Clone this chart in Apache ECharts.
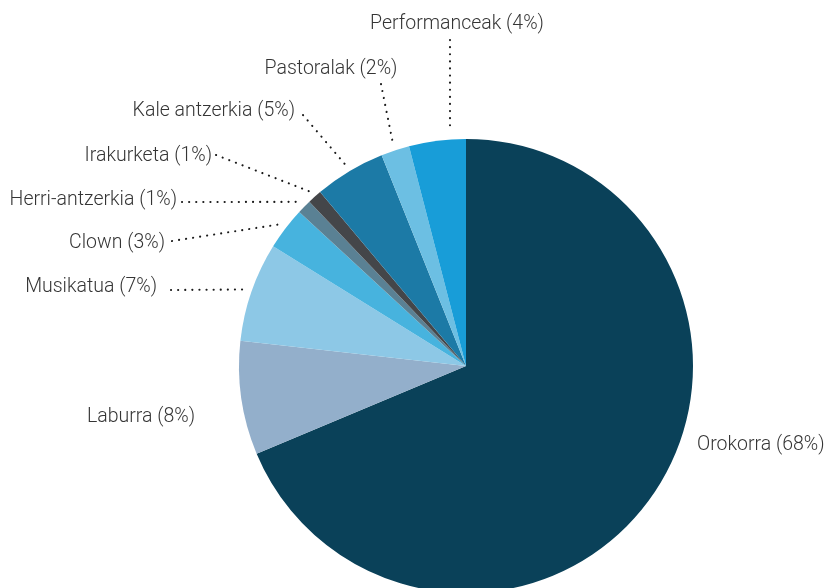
<!DOCTYPE html>
<html>
<head>
<meta charset="utf-8">
<script src="https://cdn.jsdelivr.net/npm/echarts@6/dist/echarts.min.js"></script>
<style>
    html, body { margin: 0; padding: 0; background: #fff; }
    #main { width: 827px; height: 588px; }
</style>
</head>
<body>
<div id="main"></div>
<script>
// datuak
var names = ['Orokorra', 'Laburra', 'Musikatua', 'Clown', 'Herri-antzerkia', 'Irakurketa', 'Kale antzerkia', 'Pastoralak', 'Performanceak'];
var values = [68, 8, 7, 3, 1, 1, 5, 2, 4];
var colors = ['#0a4159', '#93afcb', '#8dc8e6', '#47b3de', '#5a8194', '#444649', '#1c7aa6', '#6cbfe3', '#189dd8'];

// etiketen kokapena: [x, y, align]
var labelPos = [
    [697, 445, 'left'],
    [195, 417, 'right'],
    [157, 287, 'right'],
    [165, 243, 'right'],
    [177, 200, 'right'],
    [212, 156, 'right'],
    [295, 111, 'right'],
    [331, 69, 'center'],
    [457, 24, 'center']
];
// lerro puntudunen amaiera (etiketaren ondoan)
var lineEnd = [null, null, [171, 290], [172, 241], [182, 202], [216, 155], [303, 115], [381, 84], [450, 40]];
// lerro bertikala (Performanceak)
var lineVertical = [false, false, false, false, false, false, false, false, true];

var cx = 466, cy = 366, r = 227;

var myChart = echarts.init(document.getElementById('main'));

var data = names.map(function (n, i) {
    return {
        name: n,
        value: values[i],
        itemStyle: { color: colors[i] },
        labelLine: { show: lineEnd[i] != null }
    };
});

option = {
    animation: false,
    series: [{
        type: 'pie',
        center: [cx, cy],
        radius: r,
        startAngle: 90,
        clockwise: true,
        avoidLabelOverlap: false,
        itemStyle: { borderWidth: 0 },
        emphasis: { disabled: true },
        label: {
            show: true,
            position: 'outer',
            formatter: function (p) {
                return p.name + ' (' + p.value + '%)';
            },
            color: '#353535',
            fontFamily: 'Roboto',
            fontWeight: 300,
            fontSize: 19.5
        },
        labelLine: {
            length: 10,
            length2: 10,
            lineStyle: {
                color: '#1a1a1a',
                width: 2.1,
                type: [0.1, 7],
                cap: 'round'
            }
        },
        labelLayout: function (params) {
            var i = params.dataIndex;
            var pos = labelPos[i];
            var res = { x: pos[0], y: pos[1], align: pos[2], verticalAlign: 'middle' };
            if (lineEnd[i] && params.labelLinePoints) {
                var end = lineEnd[i];
                var start;
                if (lineVertical[i]) {
                    var ddx = end[0] - cx;
                    start = [end[0], cy - Math.sqrt((r + 8) * (r + 8) - ddx * ddx)];
                } else {
                    var p0 = params.labelLinePoints[0];
                    var dx = p0[0] - cx, dy = p0[1] - cy;
                    var k = (r + 7) / Math.sqrt(dx * dx + dy * dy);
                    start = [cx + dx * k, cy + dy * k];
                }
                // lerroa etiketatik hasi, puntuak etiketaren ondoan egon daitezen
                res.labelLinePoints = [end, start, start];
            }
            return res;
        },
        data: data
    }]
};

myChart.setOption(option);
</script>
</body>
</html>
